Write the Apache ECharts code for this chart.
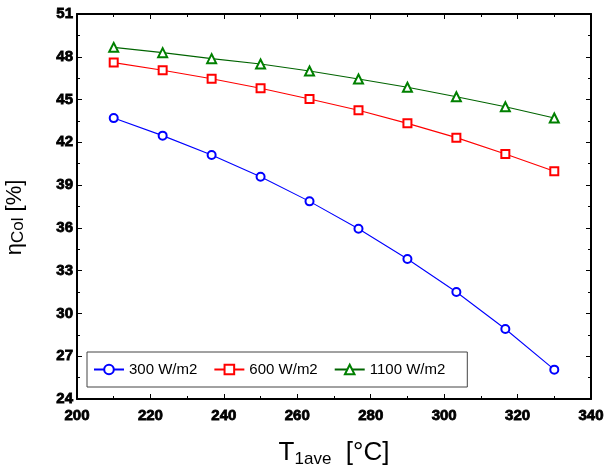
<!DOCTYPE html>
<html>
<head>
    <meta charset="utf-8">
    <title>Collector efficiency</title>
    <script src="https://cdn.jsdelivr.net/npm/echarts@6/dist/echarts.min.js"></script>
    <style type="text/css">
        * { margin: 0; padding: 0; }
        body { background: #fff; }
        #main { width: 607px; height: 468px; }
    </style>
</head>
<body>
<div id="main"></div>
<script type="text/javascript">
    // T1ave [°C]
    var temps = [210, 223.33, 236.67, 250, 263.33, 276.67, 290, 303.33, 316.67, 330];
    var eff300 = [43.7, 42.47, 41.11, 39.59, 37.86, 35.94, 33.82, 31.5, 28.91, 26.06];
    var eff600 = [47.59, 47.05, 46.46, 45.79, 45.04, 44.25, 43.33, 42.33, 41.18, 39.97];
    var eff1100 = [48.66, 48.29, 47.87, 47.49, 47.0, 46.44, 45.86, 45.2, 44.5, 43.71];
    var names = ['300 W/m2', '600 W/m2', '1100 W/m2'];

    var font = 'Liberation Sans';
    var myChart = echarts.init(document.getElementById('main'));

    function pairs(ys) {
        var out = [];
        for (var i = 0; i < temps.length; i++) {
            out.push([temps[i], ys[i]]);
        }
        return out;
    }

    function mkSeries(name, ys, color, lineColor, symbol, size) {
        return {
            name: name,
            type: 'line',
            data: pairs(ys),
            symbol: symbol,
            symbolSize: size,
            showAllSymbol: true,
            animation: false,
            itemStyle: { color: color, borderWidth: 1.2 },
            lineStyle: { color: lineColor, width: 1.1 }
        };
    }

    var tickCommon = {
        axisLine: { show: true, onZero: false, lineStyle: { color: '#000', width: 2 } },
        axisTick: { show: true, inside: true, length: 5, lineStyle: { color: '#000', width: 1 } },
        minorTick: { show: true, splitNumber: 2, length: 3, lineStyle: { color: '#000', width: 1 } },
        splitLine: { show: false }
    };

    // bold tick labels (stroke thickens the glyphs)
    var labelStyle = {
        color: '#000',
        fontFamily: font,
        fontWeight: 'bold',
        fontSize: 15,
        textBorderColor: '#000',
        textBorderWidth: 0.8
    };

    var option = {
        backgroundColor: '#fff',
        animation: false,
        grid: { left: 77, right: 16, top: 14, bottom: 69, containLabel: false, outerBoundsMode: 'none' },
        legend: {
            left: 87,
            top: 352,
            orient: 'horizontal',
            data: names,
            itemWidth: 30,
            itemHeight: 12,
            itemGap: 16,
            padding: [10, 22, 10, 6],
            borderColor: '#444',
            borderWidth: 1,
            backgroundColor: '#fff',
            selectedMode: false,
            textStyle: { fontFamily: font, fontSize: 15, color: '#000' }
        },
        xAxis: [
            echarts.util.merge({
                type: 'value',
                min: 200,
                max: 340,
                interval: 20,
                position: 'bottom',
                axisLabel: echarts.util.extend({ margin: 9 }, labelStyle),
                name: '{t|T}{s|1ave}{t|  [°C]}',
                nameLocation: 'middle',
                nameGap: 39,
                nameTextStyle: {
                    rich: {
                        t: { fontFamily: font, fontSize: 26, color: '#000', lineHeight: 30 },
                        s: { fontFamily: font, fontSize: 17, color: '#000', lineHeight: 30, padding: [12, 0, 0, 0] }
                    }
                }
            }, tickCommon, true),
            echarts.util.merge({
                type: 'value',
                min: 200,
                max: 340,
                interval: 20,
                position: 'top',
                axisLabel: { show: false }
            }, tickCommon, true)
        ],
        yAxis: [
            echarts.util.merge({
                type: 'value',
                min: 24,
                max: 51,
                interval: 3,
                position: 'left',
                axisLabel: echarts.util.extend({ margin: 4 }, labelStyle),
                name: '{t|η}{s|Col}{t| [%]}',
                nameLocation: 'middle',
                nameRotate: 90,
                nameGap: 49,
                nameTextStyle: {
                    padding: [0, 22, 0, 0],
                    rich: {
                        t: { fontFamily: font, fontSize: 22, color: '#000', lineHeight: 26 },
                        s: { fontFamily: font, fontSize: 17, color: '#000', lineHeight: 26, padding: [6, 0, 0, 0] }
                    }
                }
            }, tickCommon, true),
            echarts.util.merge({
                type: 'value',
                min: 24,
                max: 51,
                interval: 3,
                position: 'right',
                axisLabel: { show: false }
            }, tickCommon, true)
        ],
        series: [
            mkSeries(names[0], eff300, '#0000ff', '#0000ff', 'emptyCircle', 8),
            mkSeries(names[1], eff600, '#ff0000', '#ff0000', 'emptyRect', 8),
            mkSeries(names[2], eff1100, '#008000', '#006400', 'emptyTriangle', 9)
        ]
    };
    myChart.setOption(option);
</script>
</body>
</html>
